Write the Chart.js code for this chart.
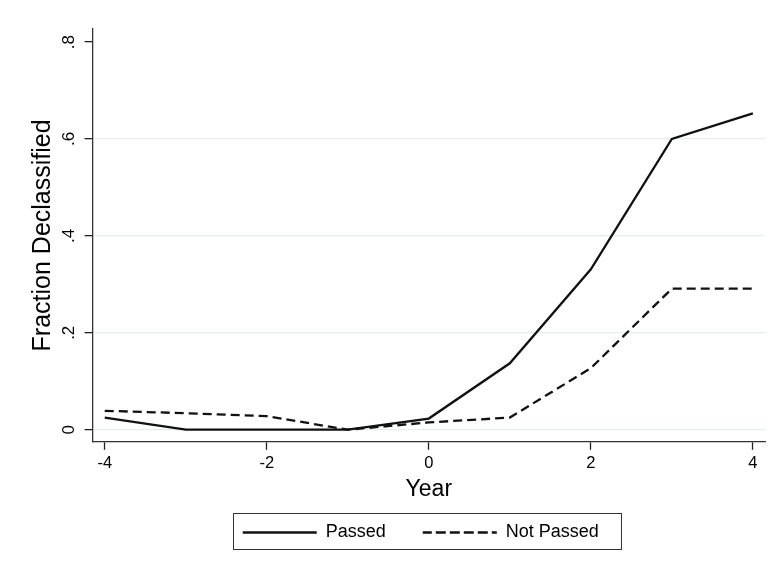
<!DOCTYPE html>
<html>
<head>
<meta charset="utf-8">
<script src="https://cdn.jsdelivr.net/npm/chart.js@4/dist/chart.umd.min.js"></script>
<style>
  html, body { margin: 0; padding: 0; background: #fff; }
  #wrap { width: 771px; height: 569px; }
</style>
</head>
<body>
<div id="wrap"><canvas id="chart" width="771" height="569"></canvas></div>
<script>
  // Data
  const years = [-4, -3, -2, -1, 0, 1, 2, 3, 4];
  const passed = [0.025, 0, 0, 0, 0.023, 0.137, 0.331, 0.600, 0.653];
  const notPassed = [0.039, 0.034, 0.028, 0, 0.015, 0.025, 0.127, 0.291, 0.291];

  const xTickValues = [-4, -2, 0, 2, 4];
  const xTickLabels = ["-4", "-2", "0", "2", "4"];
  const yTickValues = [0, 0.2, 0.4, 0.6, 0.8];
  const yTickLabels = ["0", ".2", ".4", ".6", ".8"];

  const FONT = "'Liberation Sans', Arial, Helvetica, sans-serif";

  // builds {x, y} points from the year list
  function toPoints(values) {
    return years.map((yr, i) => ({ x: yr, y: values[i] }));
  }

  // nudges the legend a bit left and draws the box round it, like Stata does
  const legendBorder = {
    id: "legendBorder",
    afterLayout(chart) {
      const lg = chart.legend;
      if (!lg) return;
      lg.left -= 8;
      lg.right -= 8;
    },
    afterDraw(chart) {
      const hb = chart.legend && chart.legend.legendHitBoxes;
      if (!hb || !hb.length) return;
      const first = hb[0];
      const last = hb[hb.length - 1];
      const cy = first.top + first.height / 2;
      const left = Math.round(first.left - 10) + 0.5;
      const right = Math.round(last.left + last.width + 22) + 0.5;
      const top = Math.round(cy - 20) + 0.5;
      const bottom = Math.round(cy + 16) + 0.5;
      const ctx = chart.ctx;
      ctx.save();
      ctx.strokeStyle = "#333";
      ctx.lineWidth = 1;
      ctx.setLineDash([]);
      ctx.strokeRect(left, top, right - left, bottom - top);
      ctx.restore();
    }
  };

  const chart = new Chart(document.getElementById("chart"), {
    type: "line",
    data: {
      datasets: [
        {
          label: "Passed",
          data: toPoints(passed),
          borderColor: "#111",
          backgroundColor: "#111",
          borderWidth: 2.3,
          pointRadius: 0,
          tension: 0
        },
        {
          label: "Not Passed",
          data: toPoints(notPassed),
          borderColor: "#111",
          backgroundColor: "#111",
          borderWidth: 2.3,
          borderDash: [9, 5],
          pointRadius: 0,
          tension: 0
        }
      ]
    },
    options: {
      responsive: false,
      animation: false,
      layout: { padding: { top: 29, left: 28.2, right: 6, bottom: 17.5 } },
      plugins: {
        tooltip: { enabled: false },
        legend: {
          position: "bottom",
          fullSize: false,
          labels: {
            boxWidth: 74,
            boxHeight: 0,
            padding: 37,
            color: "#000",
            font: { family: FONT, size: 18 }
          }
        }
      },
      scales: {
        x: {
          type: "linear",
          min: -4.15,
          max: 4.15,
          afterBuildTicks: s => { s.ticks = xTickValues.map(v => ({ value: v })); },
          ticks: {
            callback: (v, i) => xTickLabels[i],
            color: "#000",
            padding: 4,
            maxRotation: 0,
            font: { family: FONT, size: 16.5 }
          },
          grid: {
            drawOnChartArea: false,
            tickLength: 8,
            tickColor: "#222",
            tickWidth: 1.3
          },
          border: { color: "#333", width: 1.3 },
          title: {
            display: true,
            text: "Year",
            color: "#000",
            font: { family: FONT, size: 23 },
            padding: { top: -1.6, bottom: -17.1 }
          }
        },
        y: {
          type: "linear",
          min: -0.025,
          max: 0.827,
          afterBuildTicks: s => { s.ticks = yTickValues.map(v => ({ value: v })); },
          ticks: {
            callback: (v, i) => yTickLabels[i],
            color: "#000",
            padding: 8,
            minRotation: 90,
            maxRotation: 90,
            crossAlign: "center",
            font: { family: FONT, size: 17 }
          },
          grid: {
            color: c => (c.tick && c.tick.value <= 0.6 ? "#e5eeef" : "rgba(0,0,0,0)"),
            lineWidth: 1.3,
            tickLength: 8,
            tickColor: "#222",
            tickWidth: 1.3
          },
          border: { color: "#333", width: 1.3 },
          title: {
            display: true,
            text: "Fraction Declassified",
            color: "#000",
            font: { family: FONT, size: 25 },
            padding: { top: 0, bottom: -10 }
          }
        }
      }
    },
    plugins: [legendBorder]
  });
</script>
</body>
</html>
